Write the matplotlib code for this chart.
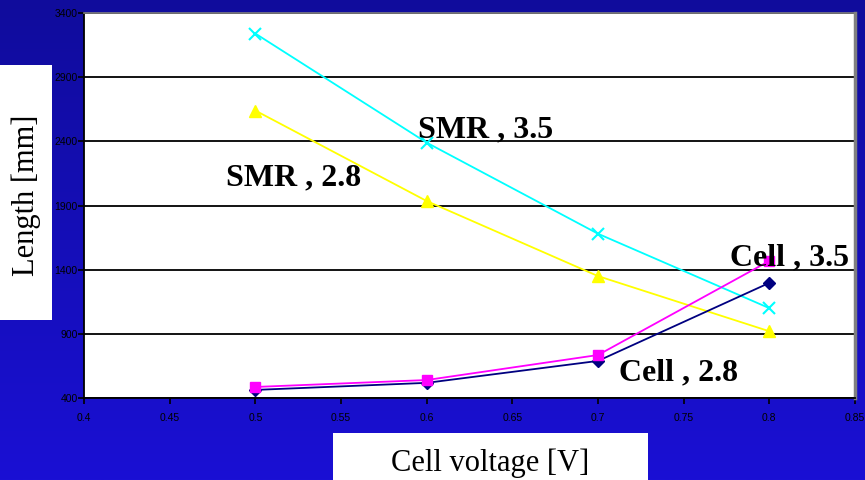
import numpy as np
import matplotlib
matplotlib.use("Agg")
import matplotlib.pyplot as plt
from matplotlib.patches import Rectangle

voltage = [0.5, 0.6, 0.7, 0.8]
smr_35 = [3240, 2390, 1680, 1100]
smr_28 = [2640, 1935, 1350, 920]
cell_35 = [486, 540, 735, 1468]
cell_28 = [463, 518, 689, 1297]

xticks = [0.4, 0.45, 0.5, 0.55, 0.6, 0.65, 0.7, 0.75, 0.8, 0.85]
yticks = [400, 900, 1400, 1900, 2400, 2900, 3400]

fig = plt.figure(figsize=(8.65, 4.8), dpi=100)

# blue gradient background
bg = fig.add_axes([0, 0, 1, 1], zorder=-10)
grad = np.linspace(0, 1, 256).reshape(-1, 1)
top = np.array([0x10, 0x0C, 0x9C]) / 255
bot = np.array([0x1A, 0x10, 0xD4]) / 255
img = top + (bot - top) * grad[:, :, None]
bg.imshow(img, aspect="auto", extent=[0, 1, 0, 1], origin="upper")
bg.axis("off")

# white label boxes
fig.patches.append(Rectangle((0, 1 - 320 / 480), 52 / 865, 255 / 480,
                             transform=fig.transFigure, facecolor="white", edgecolor="none", zorder=-5))
fig.patches.append(Rectangle((333 / 865, 0), 315 / 865, 47 / 480,
                             transform=fig.transFigure, facecolor="white", edgecolor="none", zorder=-5))
fig.text(26 / 865, 1 - 195 / 480, "Length [mm]", rotation=90, ha="center", va="center",
         family="Liberation Serif", fontsize=22)
fig.text(490 / 865, 1 - 463 / 480, "Cell voltage [V]", ha="center", va="center",
         family="Liberation Serif", fontsize=22)

ax = fig.add_axes([84 / 865, 82 / 480, 771 / 865, 385 / 480])
ax.set_facecolor("white")

ax.plot(voltage, smr_35, color="#00FFFF", marker="x", markersize=9, mew=1.5, lw=1.3, zorder=3)
ax.plot(voltage, smr_28, color="#FFFF00", marker="^", markersize=8, lw=1.3, zorder=3)
ax.plot(voltage, cell_35, color="#FF00FF", marker="s", markersize=6.5, mfc="#FF00FF",
        mec="#FF00FF", lw=1.3, zorder=4)
ax.plot(voltage, cell_28, color="#000080", marker="D", markersize=6, lw=1.3, zorder=3)

bold = dict(family="Liberation Serif", fontsize=23, fontweight="bold", va="center", zorder=5)
ax.text(0.595, 2488, "SMR , 3.5", **bold)
ax.text(0.483, 2114, "SMR , 2.8", **bold)
ax.text(0.777, 1491, "Cell , 3.5", clip_on=False, **bold)
ax.text(0.712, 596, "Cell , 2.8", **bold)

ax.set_xlim(0.4, 0.85)
ax.set_ylim(400, 3400)
ax.set_xticks(xticks)
ax.set_xticklabels([f"{v:g}" for v in xticks])
ax.set_yticks(yticks)
ax.yaxis.grid(True, color="black", lw=1.3)
ax.set_axisbelow(True)
ax.tick_params(axis="both", direction="out", length=4, width=1.2, labelsize=7.5,
               labelfontfamily="Liberation Sans", colors="black")
ax.tick_params(axis="x", pad=7)
ax.tick_params(axis="y", pad=0.5)

for s in ["left", "bottom"]:
    ax.spines[s].set_color("black")
    ax.spines[s].set_linewidth(1.3)
ax.spines["top"].set_color("#808080")
ax.spines["top"].set_linewidth(1.2)
ax.spines["right"].set_color("#808080")
ax.spines["right"].set_linewidth(2.5)

fig.savefig("out.png", dpi=100)
